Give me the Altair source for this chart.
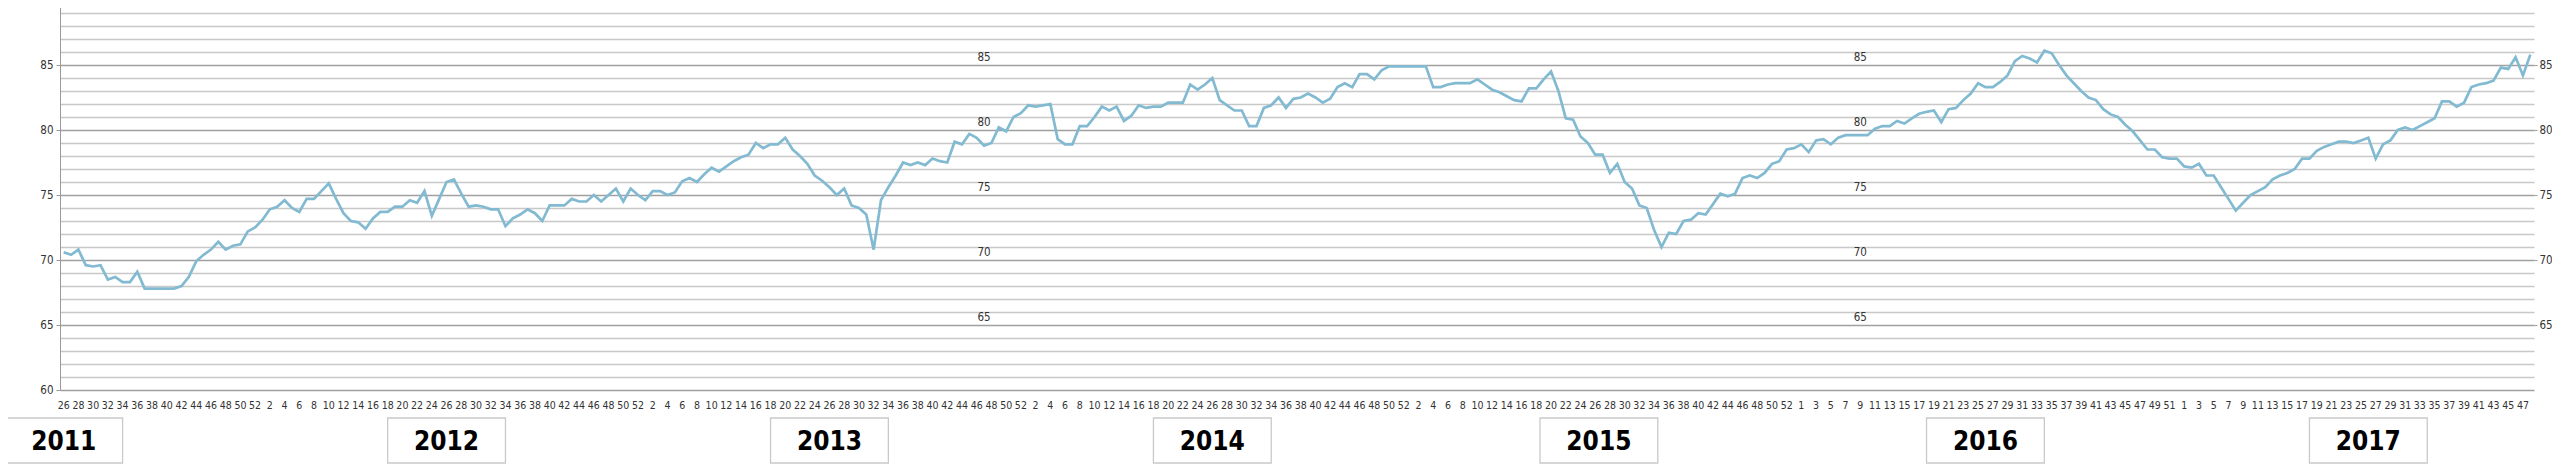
import altair as alt
import pandas as pd

# ---- data -------------------------------------------------------------
years = [2011, 2012, 2013, 2014, 2015, 2016, 2017]
first_week = [26, 1, 1, 1, 1, 1, 1]
last_week = [52, 52, 52, 52, 53, 52, 48]

values = [
    70.6, 70.4, 70.8, 69.6, 69.5, 69.6, 68.5, 68.7, 68.3, 68.3, 69.1,
    67.8, 67.8, 67.8, 67.8, 67.8, 68.0,
    68.7, 69.9, 70.4, 70.8, 71.4, 70.8, 71.1, 71.2, 72.2, 72.5,
    73.1, 73.9, 74.1, 74.6, 74.0, 73.7, 74.7, 74.7, 75.3, 75.9,
    74.7, 73.6, 73.0, 72.9, 72.4, 73.2, 73.7, 73.7, 74.1, 74.1,
    74.6, 74.4, 75.3, 73.4, 74.7, 76.0, 76.2, 75.1, 74.1, 74.2,
    74.1, 73.9, 73.9, 72.6, 73.2, 73.5, 73.9, 73.6, 73.0, 74.2,
    74.2, 74.2, 74.7, 74.5, 74.5, 75.0, 74.5, 75.0, 75.5, 74.5,
    75.5, 75.0, 74.6, 75.3, 75.3, 75.0, 75.2, 76.05,
    76.3, 76.0, 76.6, 77.1, 76.8, 77.2, 77.6, 77.9, 78.1, 79.0,
    78.6, 78.9, 78.9, 79.4, 78.5, 78.0, 77.4, 76.5, 76.1, 75.6,
    75.0, 75.5, 74.2, 74.0, 73.5, 70.8, 74.6, 75.6, 76.5, 77.5,
    77.3, 77.5, 77.3, 77.8, 77.6, 77.5, 79.1, 78.9, 79.7, 79.4,
    78.8, 79.0, 80.2, 79.9, 81.0, 81.3, 81.9, 81.8, 81.9, 82.0,
    79.3, 78.9, 78.9, 80.3, 80.3, 81.0, 81.8, 81.5, 81.8, 80.7,
    81.1, 81.9, 81.7, 81.8, 81.8, 82.1, 82.1, 82.1, 83.5, 83.1,
    83.5, 84.0, 82.3, 81.9, 81.5, 81.5, 80.3, 80.3, 81.7, 81.9,
    82.5, 81.7, 82.4, 82.5, 82.8, 82.5, 82.1, 82.4, 83.3, 83.6,
    83.3, 84.3, 84.3, 83.9, 84.6, 84.9, 84.9, 84.9, 84.9, 84.9,
    84.9, 83.3, 83.3, 83.5, 83.6, 83.6, 83.6, 83.9, 83.5, 83.1,
    82.9, 82.6, 82.3, 82.2, 83.2, 83.2, 83.9, 84.5, 83.0, 80.9,
    80.8, 79.5, 79.0, 78.1, 78.1, 76.7, 77.4, 76.0, 75.5, 74.2,
    74.0, 72.3, 71.0, 72.1, 72.0, 73.0, 73.1, 73.6, 73.5, 74.3,
    75.1, 74.9, 75.1, 76.3, 76.5, 76.3, 76.7, 77.4, 77.6, 78.5,
    78.6, 78.9, 78.3, 79.2, 79.3, 78.9, 79.4, 79.6, 79.6, 79.6,
    79.6, 80.1, 80.3, 80.3, 80.7, 80.5, 80.9, 81.25, 81.4, 81.5,
    80.6, 81.6, 81.7, 82.3, 82.8, 83.6, 83.3, 83.3, 83.7, 84.2,
    85.3, 85.7, 85.5, 85.2, 86.1, 85.9, 85.0, 84.2, 83.6, 83.0,
    82.5, 82.3, 81.6, 81.2, 81.0, 80.4, 79.9, 79.2, 78.5, 78.5,
    77.9, 77.8, 77.8, 77.2, 77.1, 77.4, 76.5, 76.5, 75.6, 74.7,
    73.8, 74.4, 75.0, 75.3, 75.6, 76.2, 76.5, 76.7, 77.0, 77.8,
    77.8, 78.4, 78.7, 78.9, 79.1, 79.1, 79.0, 79.2, 79.4, 77.8,
    78.9, 79.2, 80.0, 80.2, 80.0, 80.3, 80.6, 80.9, 82.2, 82.2,
    81.8, 82.1, 83.3, 83.5, 83.6, 83.8, 84.8, 84.7, 85.6, 84.2, 85.8,
]

# year label boxes (centre position on the week index axis)
year_labels = ["2011", "2012", "2013", "2014", "2015", "2016", "2017"]
year_box_center = [0, 52, 104, 156, 208.5, 261, 313]

# repeated value labels drawn inside the plot
inner_label_pos = [125, 244]
inner_label_vals = [65, 70, 75, 80, 85]
right_axis_vals = [65, 70, 75, 80, 85]

# ---- tables -----------------------------------------------------------
week_no = []
for f, l in zip(first_week, last_week):
    week_no += list(range(f, l + 1))
N = len(values)
df = pd.DataFrame({"idx": list(range(N)), "week": week_no[:N], "value": values})
week_labels = df[df["idx"] % 2 == 0][["idx", "week"]]

BOX_HALF = 8  # half box width in week units
boxes = pd.DataFrame({
    "year": year_labels,
    "xc": year_box_center,
    "x0": [c - BOX_HALF for c in year_box_center],
    "x1": [c + BOX_HALF for c in year_box_center],
})
inner = pd.DataFrame([
    {"pos": p, "val": v} for p in inner_label_pos for v in inner_label_vals
])

# ---- geometry -----------------------------------------------------------
W, H = 2474, 390
FONT = "Liberation Sans Narrow, DejaVu Sans Condensed, Arial Narrow, sans-serif"

x_scale = alt.Scale(domain=[-0.5, N - 0.5], nice=False, zero=False)
y_scale = alt.Scale(domain=[60, 90], nice=False, zero=False)

# x axis: ticks between the weeks, labels drawn by a text layer
x_axis = alt.Axis(
    values=[i - 0.5 for i in range(N + 1)],
    labels=False,
    tickSize=3,
    tickColor="#9a9a9a",
    domainColor="#9a9a9a",
    grid=False,
    title=None,
)

y_axis = alt.Axis(
    values=list(range(60, 91)),
    labelExpr="datum.value % 5 == 0 ? datum.value : ''",
    labelFont=FONT,
    labelFontSize=11.5,
    labelColor="#333333",
    labelPadding=3,
    tickSize=4,
    tickColor=alt.condition("datum.value % 5 == 0", alt.value("#9a9a9a"), alt.value("transparent")),
    domainColor="#9a9a9a",
    grid=True,
    gridColor=alt.condition("datum.value % 5 == 0", alt.value("#a0a0a0"), alt.value("#c8c8c8")),
    gridWidth=alt.condition("datum.value % 5 == 0", alt.value(1.4), alt.value(1.3)),
    title=None,
)

line = alt.Chart(df).mark_line(color="#82bad1", strokeWidth=2.7).encode(
    x=alt.X("idx:Q", scale=x_scale, axis=x_axis),
    y=alt.Y("value:Q", scale=y_scale, axis=y_axis),
)

week_text = alt.Chart(week_labels).mark_text(
    font=FONT, fontSize=10.5, color="#333333", baseline="middle"
).encode(
    x=alt.X("idx:Q", scale=x_scale, axis=None),
    y=alt.value(406),
    text=alt.Text("week:Q"),
)

inner_text = alt.Chart(inner).mark_text(
    font=FONT, fontSize=11.5, color="#333333", dy=-7, baseline="middle"
).encode(
    x=alt.X("pos:Q", scale=x_scale, axis=None),
    y=alt.Y("val:Q", scale=y_scale, axis=alt.Axis(
        orient="right", values=right_axis_vals, grid=False, domain=False,
        tickSize=3, tickColor="#9a9a9a", labelFont=FONT, labelFontSize=11.5,
        labelColor="#333333", labelPadding=2, title=None)),
    text=alt.Text("val:Q"),
)

box = alt.Chart(boxes).mark_rect(fill="white", stroke="#c9c9c9", strokeWidth=1.3).encode(
    x=alt.X("x0:Q", scale=x_scale, axis=None),
    x2="x1:Q",
    y=alt.value(418),
    y2=alt.value(463),
)

box_text = alt.Chart(boxes).mark_text(
    font=FONT, fontSize=26, fontWeight="bold", color="#000000", baseline="middle"
).encode(
    x=alt.X("xc:Q", scale=x_scale, axis=None),
    y=alt.value(442),
    text="year:N",
)

chart = alt.layer(line, week_text, inner_text, box, box_text).resolve_scale(
    y="independent"
).resolve_axis(y="independent").properties(
    width=W,
    height=H,
    autosize=alt.AutoSizeParams(type="none"),
    padding={"left": 52, "top": -8, "right": 18, "bottom": 78},
    background="white",
).configure_view(stroke=None)

chart.save("out.html", embed_options={"renderer": "svg", "actions": False})
